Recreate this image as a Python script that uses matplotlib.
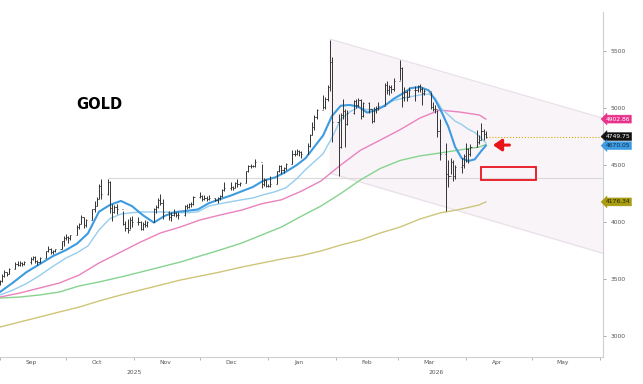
import matplotlib
matplotlib.use('Agg')
import matplotlib.pyplot as plt
import matplotlib.dates as mdates
from matplotlib.patches import Rectangle
import pandas as pd

# daily bars, Sep 1 2025 .. Apr 10 2026 (one line per week)
bar_dates = pd.bdate_range('2025-09-01', '2026-04-10')

closes = [
    3480, 3530, 3560, 3545, 3590,
    3630, 3625, 3640, 3635, 3645,
    3680, 3690, 3660, 3645, 3685,
    3745, 3765, 3735, 3750, 3760,
    3830, 3860, 3865, 3860, 3885,
    3960, 3985, 4040, 3975, 4015,
    4110, 4140, 4200, 4320, 4250,
    4355, 4125, 4090, 4130, 4115,
    3980, 3950, 3930, 4020, 4000,
    4000, 3940, 3980, 3975, 4000,
    4115, 4130, 4195, 4170, 4085,
    4045, 4065, 4080, 4060, 4065,
    4140, 4130, 4160, 4155, 4220,
    4230, 4205, 4210, 4200, 4210,
    4190, 4210, 4225, 4280, 4300,
    4305, 4300, 4340, 4330, 4340,
    4445, 4490, 4495, 4495, 4530,
    4330, 4370, 4320, 4320, 4335,
    4445, 4490, 4455, 4475, 4510,
    4600, 4600, 4625, 4615, 4595,
    4670, 4760, 4830, 4920, 4980,
    5010, 5080, 5180, 5400, 4880,
    4660, 4940, 4970, 4860, 4960,
    5060, 5030, 5070, 4930, 5040,
    4990, 4890, 4990, 5000, 5020,
    5200, 5160, 5180, 5170, 5240,
    5350, 5100, 5140, 5100, 5160,
    5160, 5190, 5170, 5130, 5150,
    5010, 4990, 4990, 4800, 4600,
    4420, 4400, 4530, 4400, 4480,
    4500, 4580, 4640, 4600, 4660,
    4700, 4720, 4800, 4770, 4749.75,
]
highs = [
    3495, 3545, 3580, 3565, 3600,
    3645, 3660, 3655, 3650, 3660,
    3690, 3700, 3705, 3665, 3690,
    3750, 3790, 3770, 3755, 3765,
    3835, 3875, 3895, 3875, 3890,
    3975, 3995, 4060, 4045, 4025,
    4115, 4180, 4220, 4330, 4380,
    4380, 4360, 4160, 4150, 4160,
    4095, 4010, 4030, 4040, 4050,
    4040, 4010, 4000, 4020, 4010,
    4120, 4150, 4210, 4250, 4200,
    4100, 4085, 4110, 4090, 4090,
    4150, 4160, 4170, 4175, 4230,
    4265, 4240, 4235, 4225, 4240,
    4215, 4220, 4235, 4290, 4350,
    4350, 4320, 4350, 4375, 4350,
    4450, 4500, 4505, 4500, 4550,
    4510, 4390, 4380, 4330, 4400,
    4450, 4500, 4500, 4480, 4515,
    4630, 4630, 4640, 4630, 4625,
    4690, 4770, 4880, 4940, 4990,
    5110, 5100, 5200, 5600, 5450,
    4950, 4960, 5080, 4990, 4980,
    5070, 5080, 5090, 5080, 5050,
    5050, 4990, 5010, 5020, 5050,
    5220, 5240, 5200, 5200, 5260,
    5420, 5360, 5180, 5160, 5180,
    5190, 5200, 5210, 5180, 5170,
    5140, 5050, 5030, 4980, 4900,
    4690, 4540, 4560, 4540, 4500,
    4560, 4600, 4690, 4650, 4680,
    4810, 4760, 4870, 4820, 4800,
]
lows = [
    3445, 3475, 3520, 3525, 3540,
    3585, 3615, 3610, 3610, 3625,
    3635, 3665, 3640, 3625, 3640,
    3685, 3735, 3720, 3720, 3735,
    3760, 3790, 3840, 3820, 3840,
    3890, 3940, 3985, 3945, 3960,
    4015, 4090, 4140, 4200, 4200,
    4240, 4080, 4010, 4075, 4070,
    3970, 3920, 3900, 3940, 3960,
    3970, 3930, 3930, 3960, 3960,
    4000, 4080, 4120, 4150, 4030,
    4020, 4010, 4050, 4040, 4030,
    4050, 4110, 4125, 4135, 4150,
    4210, 4180, 4190, 4180, 4190,
    4180, 4170, 4190, 4220, 4270,
    4285, 4280, 4300, 4310, 4315,
    4340, 4440, 4470, 4485, 4480,
    4300, 4320, 4310, 4310, 4310,
    4330, 4440, 4425, 4430, 4460,
    4510, 4580, 4590, 4580, 4560,
    4600, 4660, 4760, 4810, 4900,
    4990, 4990, 5060, 5150, 4700,
    4400, 4650, 4900, 4660, 4850,
    4950, 5000, 5010, 4900, 4920,
    4960, 4870, 4880, 4960, 4980,
    5030, 5120, 5110, 5130, 5150,
    5250, 5010, 5060, 5060, 5100,
    5060, 5140, 5140, 5030, 5110,
    4990, 4970, 4960, 4750, 4540,
    4100, 4310, 4420, 4360, 4380,
    4430, 4470, 4530, 4520, 4580,
    4660, 4680, 4720, 4720, 4740,
]

# short moving averages
fast_dates = pd.to_datetime([
    '2025-09-01', '2025-09-07', '2025-09-13', '2025-09-19', '2025-09-25',
    '2025-10-01', '2025-10-06', '2025-10-11', '2025-10-16', '2025-10-21',
    '2025-10-26', '2025-10-31', '2025-11-05', '2025-11-10', '2025-11-15',
    '2025-11-20', '2025-11-25', '2025-11-30', '2025-12-05', '2025-12-10',
    '2025-12-15', '2025-12-20', '2025-12-25', '2025-12-30', '2026-01-04',
    '2026-01-09', '2026-01-14', '2026-01-18', '2026-01-22', '2026-01-26',
    '2026-01-30', '2026-02-03', '2026-02-07', '2026-02-11', '2026-02-15',
    '2026-02-19', '2026-02-23', '2026-02-27', '2026-03-03', '2026-03-07',
    '2026-03-11', '2026-03-15', '2026-03-18', '2026-03-21', '2026-03-24',
    '2026-03-27', '2026-03-30', '2026-04-02', '2026-04-05', '2026-04-08',
    '2026-04-10'])
ma_short = [
    3386, 3470, 3560, 3630, 3700, 3754, 3810, 3900, 4090, 4150,
    4185, 4140, 4060, 3995, 4055, 4088, 4098, 4110, 4165, 4200,
    4232, 4270, 4307, 4365, 4390, 4440, 4500, 4560, 4660, 4760,
    4930, 5020, 5027, 5012, 4960, 4980, 5020, 5080, 5125, 5175,
    5184, 5155, 5070, 4960, 4833, 4660, 4560, 4535, 4550, 4625,
    4670.05]
ma_mid = [
    3360, 3404, 3460, 3530, 3610, 3684, 3730, 3790, 3930, 4030,
    4070, 4082, 4088, 4088, 4088, 4085, 4080, 4090, 4140, 4160,
    4178, 4195, 4211, 4240, 4265, 4300, 4380, 4460, 4530, 4600,
    4740, 4900, 4965, 5005, 4985, 4990, 5025, 5065, 5085, 5100,
    5115, 5123, 5085, 4990, 4939, 4885, 4855, 4815, 4785, 4735,
    4693]

# long moving averages
slow_dates = pd.to_datetime([
    '2025-09-01', '2025-09-10', '2025-09-19', '2025-09-28', '2025-10-07',
    '2025-10-16', '2025-10-26', '2025-11-04', '2025-11-13', '2025-11-22',
    '2025-12-01', '2025-12-10', '2025-12-20', '2025-12-29', '2026-01-07',
    '2026-01-16', '2026-01-25', '2026-02-03', '2026-02-12', '2026-02-21',
    '2026-03-02', '2026-03-11', '2026-03-20', '2026-03-29', '2026-04-07',
    '2026-04-10'])
ma_50 = [
    3342, 3377, 3421, 3465, 3535, 3640, 3737, 3825, 3904, 3956,
    4018, 4061, 4105, 4160, 4195, 4270, 4360, 4500, 4630, 4719,
    4810, 4912, 4982, 4965, 4939, 4902.86]
ma_100 = [
    3333, 3342, 3360, 3386, 3439, 3474, 3518, 3561, 3605, 3649,
    3702, 3754, 3816, 3886, 3956, 4050, 4140, 4250, 4370, 4470,
    4540, 4580, 4605, 4632, 4658, 4680]
ma_200 = [
    3079, 3123, 3167, 3211, 3254, 3307, 3360, 3404, 3447, 3491,
    3526, 3561, 3605, 3640, 3675, 3705, 3746, 3798, 3842, 3904,
    3956, 4026, 4079, 4110, 4150, 4176.34]

# downward channel from the January high
channel_dates = pd.to_datetime(['2026-01-29', '2026-06-02'])
channel_top = [5605, 4912]
channel_bottom = [4430, 3728]

oct_high = 4386
last_price = 4749.75
box_dates = pd.to_datetime(['2026-04-08', '2026-05-03'])
box_levels = [4368, 4483]

month_starts = pd.date_range('2025-09-01', '2026-06-01', freq='MS')
month_mids = month_starts[:-1] + pd.Timedelta(days=14)
month_labels = ['Sep', 'Oct', 'Nov', 'Dec', 'Jan', 'Feb', 'Mar', 'Apr', 'May']

fig = plt.figure(figsize=(6.43, 3.84), dpi=100)
ax = fig.add_axes([0, 0.0703, 0.9378, 0.8984])

xmin = mdates.date2num(pd.Timestamp('2025-09-01'))
xmax = xmin + 274.3
ax.set_xlim(xmin, xmax)
ax.set_ylim(2816, 5842)

# channel
cx = mdates.date2num(channel_dates)
ax.fill_between(cx, channel_bottom, channel_top, color='#f8f4f8', zorder=0)
ax.plot(cx, channel_top, color='#e9dfea', lw=0.8, zorder=1)
ax.plot(cx, channel_bottom, color='#e9dfea', lw=0.8, zorder=1)

# October high line and last price line
ax.hlines(oct_high, mdates.date2num(pd.Timestamp('2025-10-20')), xmax,
          color='#d9d9d9', lw=0.8, zorder=1)
ax.hlines(last_price, mdates.date2num(bar_dates[-1]), xmax,
          color='#d4aa00', lw=0.8, linestyles=':', zorder=1)

# moving averages
fx = mdates.date2num(fast_dates)
sx = mdates.date2num(slow_dates)
ax.plot(sx, ma_200, color='#cfc57a', lw=1.0, zorder=2)
ax.plot(sx, ma_100, color='#86d38f', lw=1.0, zorder=2)
ax.plot(sx, ma_50, color='#ea82bd', lw=1.0, zorder=2)
ax.plot(fx, ma_mid, color='#96cdee', lw=1.0, zorder=2)
ax.plot(fx, ma_short, color='#3d9be0', lw=1.5, zorder=3)

# OHLC bars
bx = mdates.date2num(bar_dates)
opens = [closes[0]] + closes[:-1]
ax.vlines(bx, lows, highs, color='#333333', lw=0.7, zorder=4)
ax.hlines(opens, bx - 0.5, bx, color='#333333', lw=0.6, zorder=4)
ax.hlines(closes, bx, bx + 0.5, color='#333333', lw=0.6, zorder=4)

# red box and arrow
bxd = mdates.date2num(box_dates)
ax.add_patch(Rectangle((bxd[0], box_levels[0]), bxd[1] - bxd[0],
                       box_levels[1] - box_levels[0], fill=False,
                       edgecolor='#e8141c', lw=1.3, zorder=5))
ax.annotate('', xy=(mdates.date2num(pd.Timestamp('2026-04-12')), 4675),
            xytext=(mdates.date2num(pd.Timestamp('2026-04-22')), 4675),
            arrowprops=dict(arrowstyle='-|>,head_length=0.5,head_width=0.35',
                            color='#e8141c', lw=2.2), zorder=6)

ax.text(0.126, 0.733, 'GOLD', transform=ax.transAxes, fontsize=10.5,
        fontweight='bold', va='center', ha='left', color='black')

# axes styling
for s in ['top', 'left']:
    ax.spines[s].set_visible(False)
for s in ['right', 'bottom']:
    ax.spines[s].set_color('#cfcfcf')
    ax.spines[s].set_linewidth(0.8)

ax.yaxis.tick_right()
ax.set_yticks([3000, 3500, 4000, 4500, 5000, 5500])
ax.set_yticklabels(['3000', '3500', '4000', '4500', '5000', '5500'])
ax.tick_params(axis='y', length=2.5, width=0.6, color='#999999',
               labelsize=4.3, labelcolor='#555555', pad=3)

ax.set_xticks(mdates.date2num(month_starts))
ax.set_xticklabels([''] * len(month_starts))
ax.set_xticks(mdates.date2num(month_mids), minor=True)
ax.set_xticklabels(month_labels, minor=True)
ax.tick_params(axis='x', which='major', length=2.5, width=0.6, color='#aaaaaa')
ax.tick_params(axis='x', which='minor', length=0, labelsize=4.3,
               labelcolor='#555555', pad=2)

ax.text(134 / 603, -0.038, '2025', transform=ax.transAxes, fontsize=4.3,
        color='#555555', ha='center', va='top')
ax.text(436 / 603, -0.038, '2026', transform=ax.transAxes, fontsize=4.3,
        color='#555555', ha='center', va='top')

# value tags on the right axis
tags = [(ma_50[-1], '#e8338c', 'white'),
        (last_price, '#111111', 'white'),
        (ma_short[-1], '#3d9be0', '#0b2a4a'),
        (ma_200[-1], '#a89c12', '#222200')]
ytrans = ax.get_yaxis_transform()
for val, bg, fg in tags:
    ax.text(1.004, val, f'{val:.2f}', transform=ytrans, fontsize=4.3,
            color=fg, ha='left', va='center', clip_on=False, zorder=7,
            bbox=dict(boxstyle='larrow,pad=0.25', fc=bg, ec=bg, lw=0.3))

fig.savefig('out.png', dpi=100, facecolor='white')
